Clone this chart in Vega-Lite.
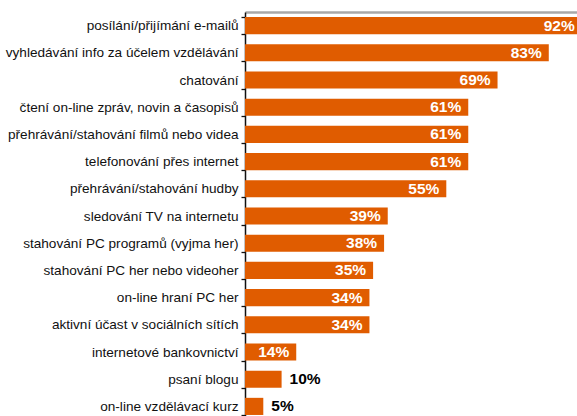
{
  "$schema": "https://vega.github.io/schema/vega-lite/v6.json",
  "width": 366,
  "height": 408,
  "autosize": "none",
  "padding": {"left": 245, "top": 12, "right": 0, "bottom": 0},
  "background": "white",
  "config": {"view": {"stroke": null}, "font": "Liberation Sans"},
  "data": {"values": [
    {"cat": "posílání/přijímání e-mailů", "v": 0.92},
    {"cat": "vyhledávání info za účelem vzdělávání", "v": 0.83},
    {"cat": "chatování", "v": 0.69},
    {"cat": "čtení on-line zpráv, novin a časopisů", "v": 0.61},
    {"cat": "přehrávání/stahování filmů nebo videa", "v": 0.61},
    {"cat": "telefonování přes internet", "v": 0.61},
    {"cat": "přehrávání/stahování hudby", "v": 0.55},
    {"cat": "sledování TV na internetu", "v": 0.39},
    {"cat": "stahování PC programů (vyjma her)", "v": 0.38},
    {"cat": "stahování PC her nebo videoher", "v": 0.35},
    {"cat": "on-line hraní PC her", "v": 0.34},
    {"cat": "aktivní účast v sociálních sítích", "v": 0.34},
    {"cat": "internetové bankovnictví", "v": 0.14},
    {"cat": "psaní blogu", "v": 0.10},
    {"cat": "on-line vzdělávací kurz", "v": 0.05}
  ]},
  "encoding": {
    "y": {
      "field": "cat", "type": "nominal", "sort": null,
      "scale": {"paddingInner": 0.37, "paddingOuter": 0.185},
      "axis": {
        "title": null, "tickBand": "extent", "tickSize": 4, "tickColor": "#111", "tickWidth": 1.3,
        "domainColor": "#111", "domainWidth": 1.5,
        "labelFontSize": 13.6, "labelColor": "#111", "labelPadding": 3, "labelLimit": 300
      }
    },
    "x": {
      "field": "v", "type": "quantitative", "scale": {"domain": [0, 1]},
      "axis": {"orient": "top", "title": null, "labels": false, "ticks": false, "grid": false, "domain": true, "domainColor": "#a8a8a8", "domainWidth": 2.5}
    }
  },
  "layer": [
    {"mark": {"type": "bar", "color": "#e05c00"}},
    {
      "transform": [{"filter": "datum.v >= 0.14"}],
      "mark": {"type": "text", "align": "right", "dx": -7, "color": "white", "fontWeight": "bold", "fontSize": 15.5},
      "encoding": {"text": {"field": "v", "type": "quantitative", "format": ".0%"}}
    },
    {
      "transform": [{"filter": "datum.v < 0.14"}],
      "mark": {"type": "text", "align": "left", "dx": 8, "color": "black", "fontWeight": "bold", "fontSize": 15.5},
      "encoding": {"text": {"field": "v", "type": "quantitative", "format": ".0%"}}
    }
  ]
}
